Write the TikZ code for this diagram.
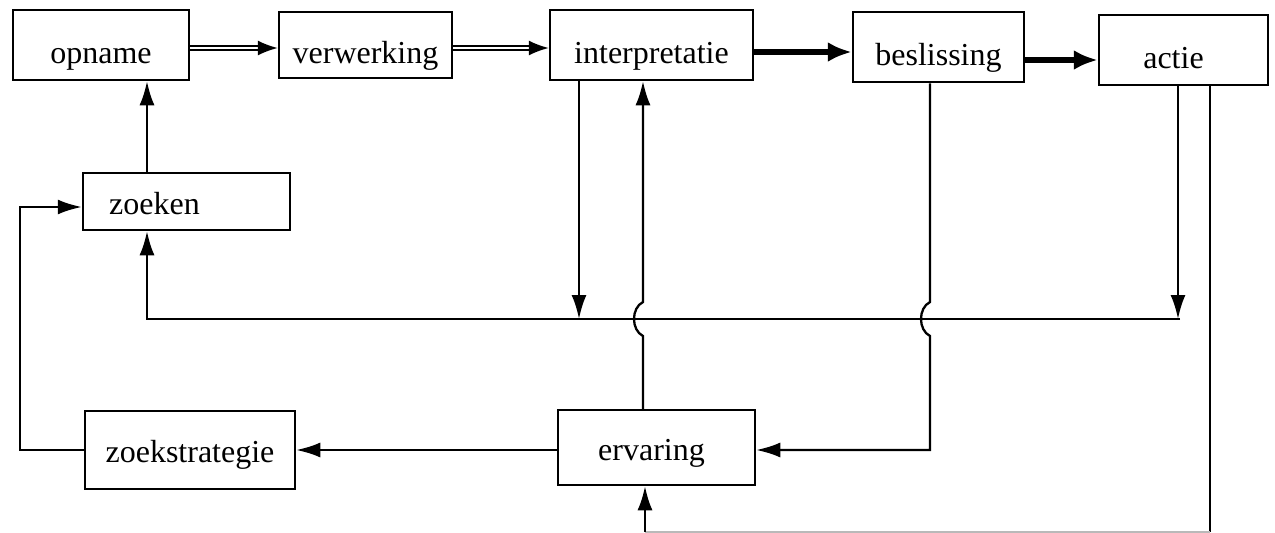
\documentclass[tikz,border=0pt]{standalone}
\usepackage{fontspec}
\setmainfont{Liberation Serif}
\usetikzlibrary{arrows.meta}
\begin{document}
\begin{tikzpicture}[x=1pt,y=-1pt,
  box/.style={draw,line width=2.5pt,inner sep=0pt,font=\fontsize{32}{36}\selectfont,text height=36pt,text depth=0pt},
  lowbox/.style={box,text height=30pt,text depth=5pt},
  conn/.style={line width=2.3pt},
  arr/.style={line width=2.3pt,-{Latex[length=24pt,width=15pt]}},
  thickarr/.style={line width=5.5pt,-{Latex[length=24pt,width=20pt]}},
  dblarr/.style={line width=1.6pt,double,double distance=2.5pt,-{Latex[length=20pt,width=15pt]}},
  faint/.style={line width=1.5pt,gray!55}]
\useasboundingbox (0,0) rectangle (1275,533);
% boxes
\node[box,minimum width=176pt,minimum height=70pt] (opname) at (101,45) {opname};
\node[box,minimum width=173pt,minimum height=66pt] (verw) at (365.5,45) {verwerking};
\node[box,minimum width=203pt,minimum height=70pt] (interp) at (651.5,45) {interpretatie};
\node[box,minimum width=171pt,minimum height=70pt] (besl) at (938.5,47) {beslissing};
\node[box,minimum width=169pt,minimum height=70pt] (actie) at (1183.5,50) {actie\kern20pt};
\node[lowbox,minimum width=207pt,minimum height=57pt] (zoeken) at (186.5,201.5) {zoeken\kern64pt};
\node[lowbox,minimum width=210pt,minimum height=78pt] (zstrat) at (190,450) {zoekstrategie};
\node[lowbox,minimum width=197pt,minimum height=75pt] (erv) at (656.5,447.5) {ervaring\kern10pt};
% coordinates
\coordinate (hl) at (147,319);
\coordinate (hr) at (1180,319);
\coordinate (lb) at (20,450);
\coordinate (lt) at (20,207);
\coordinate (bc) at (930,450);
\coordinate (br) at (1210,532);
\coordinate (bl) at (645,532);
% top chain
\draw[dblarr] (opname.east |- 0,48) -- (verw.west |- 0,48);
\draw[dblarr] (verw.east |- 0,48) -- (interp.west |- 0,48);
\draw[thickarr] (interp.east |- 0,52) -- (besl.west |- 0,52);
\draw[thickarr] (besl.east |- 0,60) -- (actie.west |- 0,60);
% zoeken -> opname
\draw[arr] (zoeken.north -| 147,0) -- (opname.south -| 147,0);
% main horizontal line back to zoeken
\draw[arr] (hr) -- (hl) -- (zoeken.south -| hl);
% interpretatie down
\draw[arr] (interp.south -| 579,0) -- (579,319);
% actie down
\draw[arr] (actie.south -| 1178,0) -- (1178,319);
% ervaring up to interpretatie with jump
\draw[arr] (erv.north -| 643,0) -- (643,336) .. controls (631,330) and (631,308) .. (643,302) -- (interp.south -| 643,0);
% beslissing down to ervaring with jump
\draw[arr] (besl.south -| 930,0) -- (930,302) .. controls (918,308) and (918,330) .. (930,336) -- (bc) -- (erv.east |- bc);
% ervaring -> zoekstrategie
\draw[arr] (erv.west |- zstrat.east) -- (zstrat.east);
% zoekstrategie -> zoeken
\draw[arr] (zstrat.west) -- (lb) -- (lt) -- (zoeken.west |- lt);
% actie -> ervaring along the bottom
\draw[conn] (actie.south -| br) -- (br);
\draw[faint] (br) -- (bl);
\draw[arr] (bl) -- (erv.south -| bl);
\end{tikzpicture}
\end{document}
